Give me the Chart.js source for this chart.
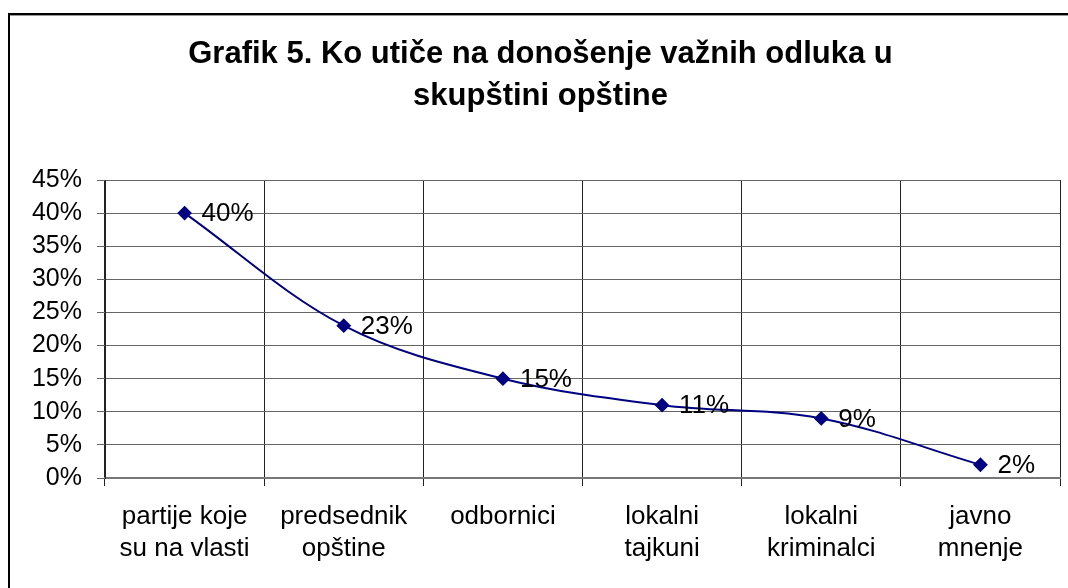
<!DOCTYPE html>
<html>
<head>
<meta charset="utf-8">
<script src="https://cdn.jsdelivr.net/npm/chart.js@4"></script>
<style>
  html, body { margin: 0; padding: 0; background: #fff; }
  #wrap { width: 1068px; height: 588px; position: relative; }
</style>
</head>
<body>
<div id="wrap"><canvas id="chart"></canvas></div>
<script>
const TITLE_LINES = ["Grafik 5. Ko utiče na donošenje važnih odluka u", "skupštini opštine"];
const CATEGORIES = [
    ["partije koje", "su na vlasti"],
    ["predsednik", "opštine"],
    ["odbornici"],
    ["lokalni", "tajkuni"],
    ["lokalni", "kriminalci"],
    ["javno", "mnenje"]
];
const VALUES = [40, 23, 15, 11, 9, 2];
const Y_MIN = 0;
const Y_MAX = 45;
const Y_STEP = 5;

const FONT = "'Liberation Sans', Arial, sans-serif";
const NAVY = "#000080";

// frame of the original chart object (top and left edges only are visible)
const framePlugin = {
    id: "frame",
    beforeDraw: function(chart) {
        let ctx = chart.ctx;
        ctx.save();
        ctx.fillStyle = "#fff";
        ctx.fillRect(0, 0, chart.width, chart.height);
        ctx.fillStyle = "#000";
        ctx.fillRect(8, 13, chart.width, 2);
        ctx.fillRect(8, 13, 2, chart.height);
        ctx.fillStyle = "#999";
        ctx.fillRect(10, 15, chart.width, 1);
        ctx.restore();
    }
};

// value labels to the right of each marker
const valueLabels = {
    id: "valueLabels",
    afterDatasetsDraw: function(chart) {
        let ctx = chart.ctx;
        let meta = chart.getDatasetMeta(0);
        ctx.save();
        ctx.font = "26px " + FONT;
        ctx.fillStyle = "#000";
        ctx.textAlign = "left";
        ctx.textBaseline = "middle";
        meta.data.forEach((pt, i) => {
            ctx.fillText(VALUES[i] + "%", pt.x + 17, pt.y + 1);
        });
        ctx.restore();
    }
};

new Chart(document.getElementById("chart"), {
    type: "line",
    data: {
        labels: CATEGORIES,
        datasets: [{
            data: VALUES,
            borderColor: NAVY,
            borderWidth: 2,
            backgroundColor: NAVY,
            pointStyle: "rectRot",
            pointRadius: 6,
            pointHoverRadius: 6,
            pointBackgroundColor: NAVY,
            pointBorderColor: NAVY,
            tension: 0.35,
            fill: false
        }]
    },
    options: {
        responsive: true,
        maintainAspectRatio: false,
        animation: false,
        events: [],
        layout: { padding: { left: 20, right: 7, top: 0, bottom: 0 } },
        plugins: {
            legend: { display: false },
            tooltip: { enabled: false },
            title: {
                display: true,
                text: TITLE_LINES,
                color: "#000",
                font: { family: FONT, size: 31, weight: "bold", lineHeight: 1.355 },
                padding: { top: 33, bottom: 63 }
            }
        },
        scales: {
            x: {
                offset: true,
                grid: {
                    offset: true,
                    color: "#222",
                    lineWidth: 1,
                    tickLength: 8,
                    drawTicks: true
                },
                border: { color: "#777", width: 2 },
                ticks: {
                    color: "#000",
                    font: { family: FONT, size: 26, lineHeight: 1.23 },
                    padding: 15,
                    maxRotation: 0,
                    autoSkip: false
                },
                afterFit: function(scale) { scale.height = 110; }
            },
            y: {
                min: Y_MIN,
                max: Y_MAX,
                grid: {
                    color: "#666",
                    lineWidth: 1,
                    tickLength: 8
                },
                border: { color: "#222", width: 1 },
                ticks: {
                    stepSize: Y_STEP,
                    color: "#000",
                    font: { family: FONT, size: 25 },
                    padding: 15,
                    callback: function(v) { return v + "%"; }
                },
                afterFit: function(scale) { scale.width = 85; }
            }
        }
    },
    plugins: [framePlugin, valueLabels]
});
</script>
</body>
</html>
